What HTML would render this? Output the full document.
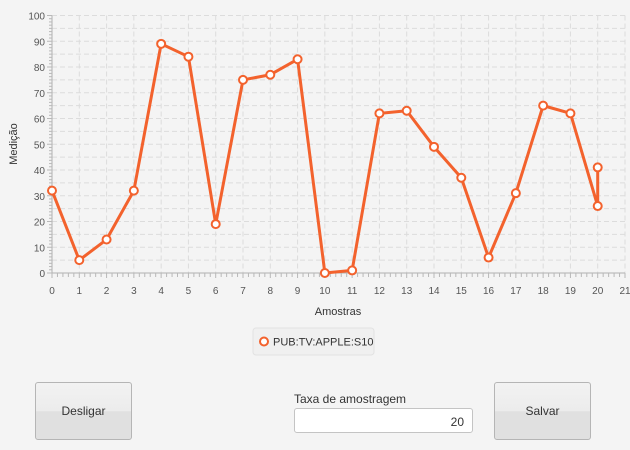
<!DOCTYPE html>
<html><head><meta charset="utf-8"><style>
body{margin:0;width:630px;height:450px;background:#f4f4f4;font-family:"Liberation Sans",sans-serif;overflow:hidden;position:relative}
.btn{position:absolute;width:97px;height:58px;border:1px solid #b5b5b5;border-radius:3px;background:linear-gradient(#f2f2f2 0%,#ececec 50%,#e0e0e0 51%,#e0e0e0 100%);font-size:12px;color:#333;display:flex;align-items:center;justify-content:center;box-sizing:border-box}
</style></head><body>
<svg width="630" height="450" style="position:absolute;left:0;top:0" id="chart"></svg>
<div class="btn" style="left:35px;top:382px">Desligar</div>
<div class="btn" style="left:494px;top:382px">Salvar</div>
<div style="position:absolute;left:294px;top:392px;font-size:12px;color:#333">Taxa de amostragem</div>
<div style="position:absolute;left:294px;top:408px;width:179px;height:25px;box-sizing:border-box;border:1px solid #c4c4c4;border-radius:3px;background:#fff;font-size:12px;color:#333;text-align:right;padding:6px 8px 0 0">20</div>
<script>
const xs=[0,1,2,3,4,5,6,7,8,9,10,11,12,13,14,15,16,17,18,19,20,20];
const ys=[32,5,13,32,89,84,19,75,77,83,0,1,62,63,49,37,6,31,65,62,26,41];
const xTicks=[0,1,2,3,4,5,6,7,8,9,10,11,12,13,14,15,16,17,18,19,20,21];
const yTicks=[0,10,20,30,40,50,60,70,80,90,100];
const seriesName="PUB:TV:APPLE:S10";
const NS="http://www.w3.org/2000/svg",svg=document.getElementById('chart');
const X0=52,X1=625,Y0=273,Y1=15.5;
const sx=v=>X0+(v-0)/(21-0)*(X1-X0), sy=v=>Y0-(v-0)/(100-0)*(Y0-Y1);
function el(t,a,p){const e=document.createElementNS(NS,t);for(const k in a)e.setAttribute(k,a[k]);(p||svg).appendChild(e);return e;}
el('rect',{x:X0,y:Y1,width:X1-X0,height:Y0-Y1,fill:'#f4f4f4'});
for(let v=0;v<=100;v+=5){if(v==0)continue;const l=el('line',{x1:X0,x2:X1,y1:sy(v),y2:sy(v),stroke:'#dcdcdc','stroke-dasharray':'5,3'});}
xTicks.forEach(v=>{if(v==0)return;const l=el('line',{x1:sx(v),x2:sx(v),y1:Y1,y2:Y0,stroke:'#dcdcdc','stroke-dasharray':'5,3'});});
el('line',{x1:X0,x2:X0,y1:Y1,y2:Y0,stroke:'#b0b0b0'});el('line',{x1:X0,x2:X1,y1:Y0,y2:Y0,stroke:'#b0b0b0'});
for(let v=0;v<=100;v+=1.25){el('line',{x1:X0-(v%10==0?5:3),x2:X0,y1:sy(v),y2:sy(v),stroke:'#b8b8b8'});}
for(let v=0;v<=21;v+=0.2){const m=Math.abs(v-Math.round(v))<1e-6;el('line',{x1:sx(v),x2:sx(v),y1:Y0,y2:Y0+(m?5:4),stroke:'#b8b8b8'});}
yTicks.forEach(v=>{const t=el('text',{x:X0-7,y:sy(v)+4,'text-anchor':'end','font-size':10,fill:'#555'});t.textContent=v;});
xTicks.forEach(v=>{const t=el('text',{x:sx(v),y:Y0+21,'text-anchor':'middle','font-size':10,fill:'#555'});t.textContent=v;});
let t=el('text',{x:338,y:315,'text-anchor':'middle','font-size':11,fill:'#333'});t.textContent='Amostras';
t=el('text',{x:0,y:0,'text-anchor':'middle','font-size':11,fill:'#333',transform:'translate(17,144) rotate(-90)'});t.textContent='Medição';
const p=el('polyline',{points:xs.map((x,i)=>sx(x)+','+sy(ys[i])).join(' '),fill:'none',stroke:'#f3622d','stroke-width':3,'stroke-linejoin':'round'});

xs.forEach((x,i)=>{const c=el('circle',{cx:sx(x),cy:sy(ys[i]),r:4,fill:'#fff',stroke:'#f3622d','stroke-width':2});});
const g=el('g',{});
el('rect',{x:253,y:328,width:121,height:27,rx:3,fill:'#f0f0f0',stroke:'#e2e2e2'},g);
el('circle',{cx:264,cy:341.5,r:4,fill:'#fff',stroke:'#f3622d','stroke-width':2},g);
t=el('text',{x:273,y:345.5,'font-size':11,fill:'#333'},g);t.textContent=seriesName;
</script>
</body></html>
